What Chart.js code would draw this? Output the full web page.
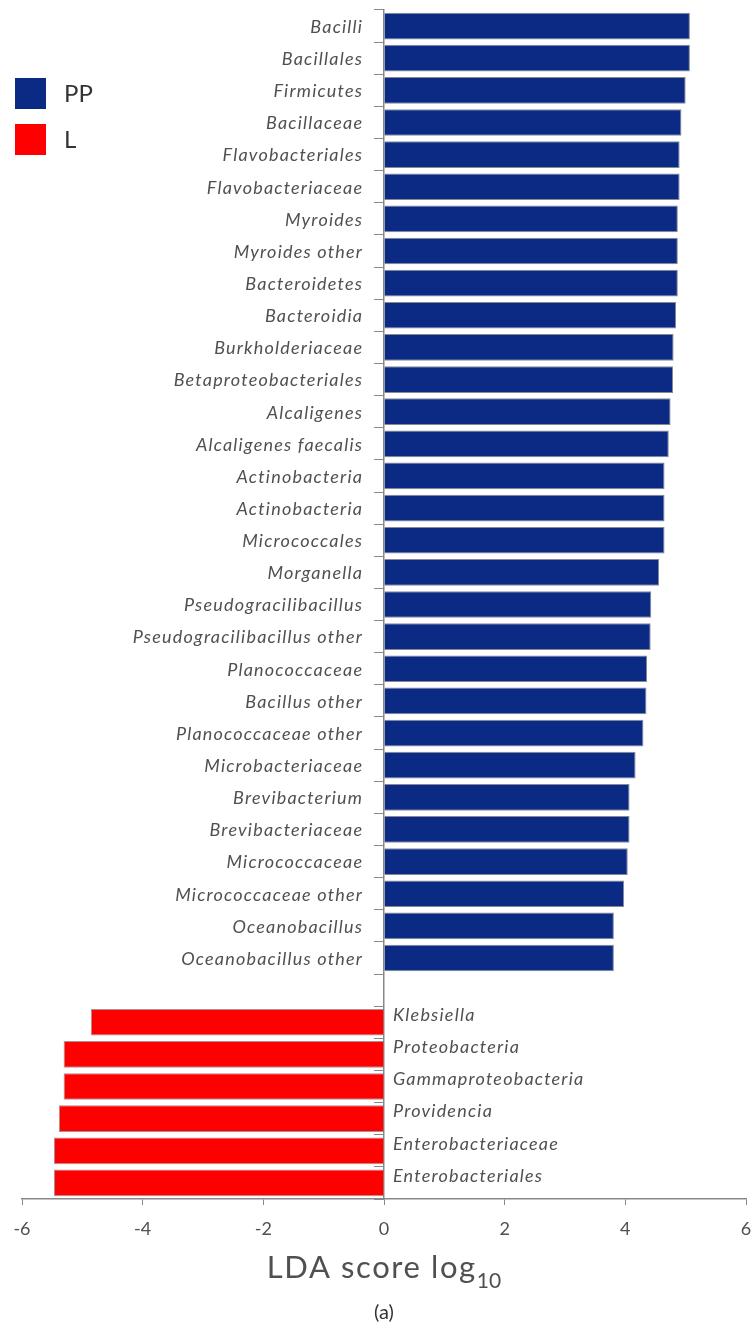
<!DOCTYPE html>
<html>
<head>
<meta charset="utf-8">
<script src="https://cdn.jsdelivr.net/npm/chart.js@4"></script>
<style>
  html, body { margin: 0; padding: 0; background: #fff; }
  #wrap { position: relative; width: 755px; height: 1328px; }
</style>
</head>
<body>
<div id="wrap"><canvas id="c" width="755" height="1328"></canvas></div>
<script>
// Taxa enriched in PP (positive LDA) and in L (negative LDA)
const ppTaxa = [
  'Bacilli', 'Bacillales', 'Firmicutes', 'Bacillaceae', 'Flavobacteriales',
  'Flavobacteriaceae', 'Myroides', 'Myroides other', 'Bacteroidetes', 'Bacteroidia',
  'Burkholderiaceae', 'Betaproteobacteriales', 'Alcaligenes', 'Alcaligenes faecalis',
  'Actinobacteria', 'Actinobacteria', 'Micrococcales', 'Morganella',
  'Pseudogracilibacillus', 'Pseudogracilibacillus other', 'Planococcaceae',
  'Bacillus other', 'Planococcaceae other', 'Microbacteriaceae', 'Brevibacterium',
  'Brevibacteriaceae', 'Micrococcaceae', 'Micrococcaceae other', 'Oceanobacillus',
  'Oceanobacillus other'
];
const ppScores = [
  5.07, 5.07, 5.00, 4.93, 4.90,
  4.90, 4.87, 4.87, 4.87, 4.84,
  4.80, 4.79, 4.75, 4.72,
  4.65, 4.65, 4.65, 4.56,
  4.43, 4.42, 4.36,
  4.35, 4.30, 4.17, 4.07,
  4.07, 4.04, 3.98, 3.81,
  3.81
];
const lTaxa = [
  'Klebsiella', 'Proteobacteria', 'Gammaproteobacteria',
  'Providencia', 'Enterobacteriaceae', 'Enterobacteriales'
];
const lScores = [-4.86, -5.31, -5.31, -5.39, -5.47, -5.47];
const xTicks = [-6, -4, -2, 0, 2, 4, 6];
const groupNames = ['PP', 'L'];
const groupColors = ['#0a2a84', '#ff0000'];

// One blank row separates the two groups
const categories = [...ppTaxa, '', ...lTaxa];
const ppData = [...ppScores, null, ...lTaxa.map(() => null)];
const lData = [...ppTaxa.map(() => null), null, ...lScores];

const LABEL_FONT = 'italic 18px Lato';
const LABEL_SPACING = 1.2;
const TEXT_GREY = '#505050';

// Taxon names beside the zero line, legend squares and axis title
const annotations = {
  id: 'annotations',
  afterDatasetsDraw(chart) {
    const ctx = chart.ctx;
    const xs = chart.scales.x, ys = chart.scales.y;
    const x0 = xs.getPixelForValue(0);
    ctx.save();
    ctx.font = LABEL_FONT;
    ctx.letterSpacing = LABEL_SPACING + 'px';
    ctx.fillStyle = TEXT_GREY;
    ctx.textBaseline = 'middle';
    categories.forEach((name, i) => {
      if (!name) return;
      const y = ys.getPixelForValue(i);
      if (ppData[i] !== null) {
        ctx.textAlign = 'right';
        ctx.fillText(name, x0 - 22 + LABEL_SPACING, y + 1);
      } else if (lData[i] !== null) {
        ctx.textAlign = 'left';
        ctx.fillText(name, x0 + 9, y - 7);
      }
    });
    ctx.restore();
  },
  afterDraw(chart) {
    const ctx = chart.ctx;
    const xs = chart.scales.x;
    const x0 = xs.getPixelForValue(0);
    ctx.save();
    // legend
    groupNames.forEach((g, k) => {
      const top = 78 + k * 46;
      ctx.fillStyle = groupColors[k];
      ctx.fillRect(15, top, 31, 31);
      ctx.fillStyle = '#333';
      ctx.font = '24px Lato';
      ctx.textAlign = 'left';
      ctx.textBaseline = 'middle';
      ctx.fillText(g, 64, top + 16);
    });
    // axis title with subscript
    ctx.fillStyle = TEXT_GREY;
    ctx.textBaseline = 'alphabetic';
    ctx.textAlign = 'left';
    const main = 'LDA score log';
    const sub = '10';
    ctx.font = '31px Lato';
    ctx.letterSpacing = '1.6px';
    const wMain = ctx.measureText(main).width;
    ctx.font = '21px Lato';
    ctx.letterSpacing = '0px';
    const wSub = ctx.measureText(sub).width;
    const start = x0 - (wMain + wSub) / 2;
    ctx.font = '31px Lato';
    ctx.letterSpacing = '1.6px';
    ctx.fillText(main, start, 1278);
    ctx.font = '21px Lato';
    ctx.letterSpacing = '0px';
    ctx.fillText(sub, start + wMain, 1288);
    // panel tag
    ctx.fillStyle = '#333';
    ctx.font = '20px Lato';
    ctx.textAlign = 'center';
    ctx.fillText('(a)', x0, 1319);
    ctx.restore();
  }
};

new Chart(document.getElementById('c'), {
  type: 'bar',
  data: {
    labels: categories,
    datasets: [
      { label: groupNames[0], data: ppData, backgroundColor: groupColors[0],
        borderColor: 'rgba(40,40,60,0.55)', borderWidth: 1 },
      { label: groupNames[1], data: lData, backgroundColor: groupColors[1],
        borderColor: 'rgba(90,60,60,0.55)', borderWidth: 1 }
    ]
  },
  options: {
    indexAxis: 'y',
    responsive: false,
    animation: false,
    grouped: false,
    barPercentage: 0.83,
    categoryPercentage: 1,
    layout: { padding: { left: 22, right: 9, top: 10, bottom: 0 } },
    plugins: { legend: { display: false }, tooltip: { enabled: false } },
    scales: {
      x: {
        type: 'linear',
        min: -6, max: 6,
        afterBuildTicks(scale) { scale.ticks = xTicks.map(v => ({ value: v })); },
        afterFit(scale) {
          scale.height = 129;
          scale.paddingLeft = 0;
          scale.paddingRight = 0;
        },
        grid: { drawOnChartArea: false, drawTicks: true, tickLength: 6, color: '#888' },
        border: { color: '#888', width: 1.5 },
        ticks: { color: TEXT_GREY, font: { family: 'Lato', size: 18 }, padding: 13 }
      },
      y: {
        type: 'category',
        position: { x: 0 },
        offset: true,
        grid: { drawOnChartArea: false, drawTicks: true, tickLength: 9, color: '#888', offset: true },
        border: { color: '#888', width: 1.5 },
        ticks: { display: false }
      }
    }
  },
  plugins: [annotations]
});
</script>
</body>
</html>
